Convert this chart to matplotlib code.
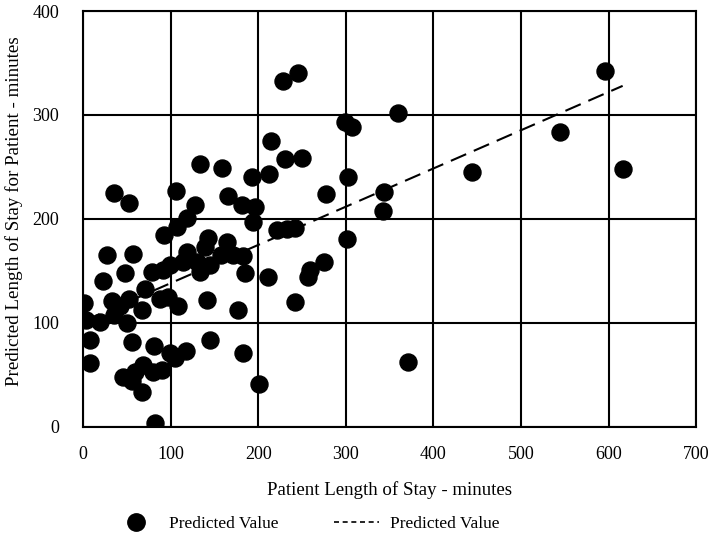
import matplotlib
matplotlib.use('Agg')
import matplotlib.pyplot as plt
from matplotlib.lines import Line2D

plt.rcParams['font.family'] = ['Liberation Serif', 'DejaVu Serif']

# actual length of stay (minutes) vs predicted length of stay (minutes)
actual = [1.5, 4, 8, 8, 19.5, 23, 27, 33, 35, 35, 42, 46, 48, 50, 52, 52.5,
          55.6, 56, 57, 59.4, 67, 67, 69, 71, 79, 80.3, 81, 82, 88, 90, 91.7,
          92, 97.4, 99, 99.3, 105, 106.2, 107, 109, 114.5, 118.4, 118.4, 118,
          128, 130, 133.6, 133.6, 139.3, 142, 143, 145, 145, 158, 158.3, 164,
          166, 171.6, 177.3, 181, 183, 183, 185, 192.6, 194.4, 196, 201,
          210.8, 212.7, 214.6, 221, 228.7, 230.6, 232.5, 242, 242, 245, 250,
          257, 259, 275.5, 277.4, 299, 302, 301, 306.7, 343.6, 343, 360, 371,
          444.5, 545, 596, 616]
predicted = [119.5, 103, 84, 61, 101, 140, 165, 121, 108, 225, 116, 48, 148,
             100, 123, 215, 44, 82, 166.5, 53, 112.5, 34, 60, 132.5, 149, 53,
             78, 4, 123, 55, 151, 185, 124.5, 155.5, 71, 66, 226.5, 192, 116,
             159, 168.6, 201, 73, 213, 159, 149.3, 252.6, 173.4, 122, 181.4,
             156, 83.5, 165.4, 249.4, 178.2, 222, 165.4, 112, 213.5, 164, 71,
             148, 240, 197.4, 211.3, 41, 144.5, 243, 275, 189, 333, 258, 190,
             191.5, 120.5, 340.5, 258.5, 144, 151, 158.4, 224, 293, 240, 181,
             288, 226, 208, 302, 62.8, 245, 283.6, 342, 247.6]

# linear trend line end points
trend_x = [1.5, 616]
trend_y = [102, 328]

fig = plt.figure(figsize=(7.09, 5.37), dpi=100)
ax = fig.add_axes([0.117, 0.205, 0.865, 0.7745])

ax.scatter(actual, predicted, s=150, color='black', zorder=3)
ax.plot(trend_x, trend_y, color='black', lw=1.5, dashes=(8, 4), zorder=4)

ax.set_xlim(0, 700)
ax.set_ylim(0, 400)
ax.set_xticks(range(0, 701, 100))
ax.set_yticks(range(0, 401, 100))
ax.grid(True, color='black', lw=1.5)
ax.set_axisbelow(True)
for s in ax.spines.values():
    s.set_linewidth(1.5)
ax.tick_params(length=0, labelsize=13)
ax.tick_params(axis='x', pad=14)
ax.tick_params(axis='y', pad=17)

ax.set_xlabel('Patient Length of Stay - minutes', fontsize=13.6, labelpad=13)
ax.set_ylabel('Predicted Length of Stay for Patient - minutes', fontsize=13.7,
              labelpad=4)
ax.yaxis.set_label_coords(-0.097, 0.52)

handles = [
    Line2D([], [], marker='o', ls='none', color='black', markersize=12.5),
    Line2D([], [], color='black', lw=1.2, dashes=(3, 2.2)),
]
fig.legend(handles, ['Predicted Value', 'Predicted Value'], loc='lower center',
           bbox_to_anchor=(0.432, -0.02), ncol=2, frameon=False, fontsize=12.5,
           columnspacing=3.2, handlelength=2.6, handletextpad=0.6)

fig.savefig('out.png', dpi=100)
